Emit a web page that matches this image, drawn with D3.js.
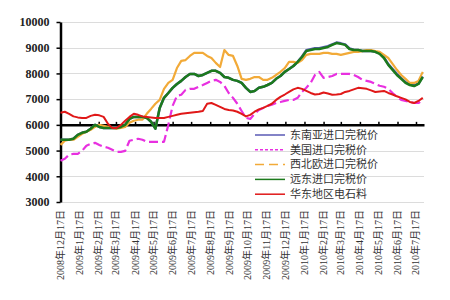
<!DOCTYPE html>
<html>
<head>
<meta charset="utf-8">
<script src="https://cdn.jsdelivr.net/npm/d3@7"></script>
<style>
  body { margin: 0; background: #fff; }
</style>
</head>
<body>
<div id="chart"></div>
<script>
// Weekly prices (yuan/ton)
const startDate = new Date(2008, 11, 17);
const weeks = d3.range(85).map(i => d3.timeDay.offset(startDate, 7 * i));

const tickLabels = [
    "2008年12月17日", "2009年1月17日", "2009年2月17日", "2009年3月17日", "2009年4月17日",
    "2009年5月17日", "2009年6月17日", "2009年7月17日", "2009年8月17日", "2009年9月17日",
    "2009年10月17日", "2009年11月17日", "2009年12月17日", "2010年1月17日", "2010年2月17日",
    "2010年3月17日", "2010年4月17日", "2010年5月17日", "2010年6月17日", "2010年7月17日"
];
const yTicks = [3000, 4000, 5000, 6000, 7000, 8000, 9000, 10000];

const seriesNames = ["东南亚进口完税价", "美国进口完税价", "西北欧进口完税价", "远东进口完税价", "华东地区电石料"];

const seAsia = [
    5420, 5420, 5420, 5460, 5610, 5690, 5730, 5850, 6000, 5920,
    5880, 5880, 5880, 5880, 5920, 6000, 6230, 6310, 6310, 6310,
    6270, 6120, 5850, 6660, 7050, 7240, 7440, 7590, 7710, 7860,
    7980, 7980, 7900, 7940, 8020, 8100, 8100, 8020, 7860, 7830,
    7750, 7710, 7630, 7440, 7280, 7320, 7440, 7480, 7550, 7630,
    7790, 7900, 8060, 8170, 8290, 8450, 8660, 8900, 8940, 8980,
    8980, 9020, 9060, 9130, 9200, 9170, 9130, 8970, 8920, 8910,
    8870, 8870, 8870, 8840, 8780, 8620, 8360, 8170, 7980, 7820,
    7660, 7570, 7530, 7600, 7880
];
const usa = [
    4600, 4680, 4840, 4870, 4870, 4990, 5190, 5260, 5300, 5220,
    5150, 5110, 5030, 4950, 4950, 4990, 5380, 5420, 5460, 5420,
    5340, 5340, 5340, 5340, 5340, 6000, 6740, 7130, 7170, 7360,
    7400, 7400, 7480, 7550, 7630, 7710, 7750, 7670, 7520, 7240,
    7050, 6820, 6540, 6270, 6230, 6430, 6580, 6660, 6740, 6780,
    6850, 6890, 6930, 6970, 6970, 7050, 7280, 7440, 7630, 7940,
    8060, 7830, 7860, 7900, 7980, 7980, 7980, 7980, 7940, 7860,
    7750, 7710, 7670, 7590, 7520, 7480, 7400, 7240, 7090, 6970,
    6930, 6890, 6850, 6850, 6970
];
const nwEurope = [
    5220, 5380, 5420, 5420, 5530, 5650, 5730, 5810, 5920, 6000,
    5960, 5920, 5880, 5850, 5880, 5920, 6080, 6160, 6200, 6200,
    6430, 6620, 6820, 6970, 7400, 7630, 7750, 8210, 8490, 8520,
    8680, 8800, 8800, 8800, 8680, 8600, 8410, 8250, 8910, 8720,
    8680, 8290, 7790, 7750, 7790, 7860, 7860, 7750, 7750, 7830,
    7940, 8060, 8210, 8450, 8450, 8410, 8520, 8720, 8760, 8760,
    8760, 8800, 8800, 8760, 8760, 8720, 8760, 8800, 8840, 8840,
    8870, 8910, 8910, 8870, 8840, 8720, 8600, 8370, 8140, 7940,
    7790, 7630, 7630, 7710, 8060
];
const farEast = [
    5420, 5420, 5420, 5460, 5610, 5690, 5730, 5850, 6000, 5920,
    5880, 5880, 5880, 5880, 5920, 6000, 6230, 6310, 6310, 6310,
    6270, 6120, 5850, 6660, 7050, 7240, 7440, 7590, 7710, 7860,
    7980, 7980, 7900, 7940, 8020, 8100, 8100, 8020, 7860, 7830,
    7750, 7710, 7630, 7440, 7280, 7320, 7440, 7480, 7550, 7630,
    7790, 7900, 8060, 8170, 8290, 8450, 8640, 8870, 8910, 8950,
    8950, 8990, 9030, 9110, 9180, 9150, 9110, 8950, 8910, 8910,
    8870, 8870, 8870, 8840, 8760, 8600, 8330, 8140, 7940, 7790,
    7630, 7550, 7510, 7590, 7860
];
const eastChina = [
    6470, 6510, 6430, 6330, 6290, 6270, 6270, 6350, 6390, 6370,
    6310, 6040, 5880, 5880, 6000, 6160, 6310, 6430, 6390, 6330,
    6310, 6290, 6270, 6270, 6270, 6310, 6350, 6390, 6430, 6450,
    6470, 6490, 6510, 6540, 6820, 6850, 6780, 6700, 6620, 6580,
    6560, 6510, 6430, 6330, 6390, 6510, 6600, 6660, 6740, 6820,
    6970, 7090, 7180, 7280, 7380, 7440, 7400, 7320, 7240, 7180,
    7200, 7260, 7220, 7170, 7180, 7200, 7280, 7320, 7380, 7440,
    7420, 7400, 7340, 7280, 7300, 7320, 7240, 7180, 7110, 7050,
    6990, 6890, 6850, 6930, 7050
];

const seriesData = [seAsia, usa, nwEurope, farEast, eastChina];
const colors = ["#5a5ab4", "#e830e0", "#f2aa38", "#1c7a1c", "#e01818"];
const chartDash = [null, "9,4", null, null, null];
const legendDash = [null, "3,2", "9,5", null, null];
const widths = [2.5, 2.2, 2.2, 2.5, 2];

const width = 450, height = 300;
const margin = {top: 22, right: 26, bottom: 98, left: 60.5};

const svg = d3.select("#chart")
    .append("svg")
    .attr("width", width)
    .attr("height", height);

const parseLabel = d3.timeParse("%Y年%m月%d日");
const tickDates = tickLabels.map(parseLabel);

const x = d3.scaleTime()
    .domain([startDate, new Date(2010, 6, 30)])
    .range([margin.left, width - margin.right]);

const y = d3.scaleLinear()
    .domain([3000, 10000])
    .range([height - margin.bottom, margin.top]);

// gridlines
svg.append("g")
    .selectAll("line")
    .data(yTicks)
    .enter()
    .append("line")
    .attr("x1", margin.left)
    .attr("x2", width - margin.right)
    .attr("y1", d => Math.round(y(d)) + 0.5)
    .attr("y2", d => Math.round(y(d)) + 0.5)
    .attr("stroke", "#dcdcdc")
    .attr("stroke-width", 1);

/* Y axis */
const yAxis = svg.append("g")
    .attr("transform", `translate(${margin.left},0)`)
    .call(d3.axisLeft(y).tickValues(yTicks).tickFormat(d3.format("d"))
        .tickSize(4).tickSizeOuter(0).tickPadding(7));
yAxis.select(".domain").attr("stroke", "#000").attr("stroke-width", 2.5);
yAxis.selectAll(".tick line").attr("stroke", "#000").attr("stroke-width", 1.5);
yAxis.selectAll(".tick text")
    .style("font-family", "'Liberation Serif', serif")
    .style("font-weight", "bold")
    .style("font-size", "12px")
    .attr("fill", "#222");

/* X axis crossing at 6000 */
const xAxis = svg.append("g")
    .attr("transform", `translate(0,${y(6000)})`)
    .call(d3.axisTop(x).tickValues(tickDates).tickSize(3).tickSizeOuter(0).tickFormat(""));
xAxis.select(".domain").attr("stroke", "#000").attr("stroke-width", 2.5);
xAxis.selectAll(".tick line").attr("stroke", "#000").attr("stroke-width", 1.5);

// category labels along the bottom
svg.append("g")
    .selectAll("text")
    .data(tickLabels)
    .enter()
    .append("text")
    .attr("transform", (d, i) => `translate(${x(tickDates[i])},${height - margin.bottom + 8}) rotate(-90)`)
    .attr("dy", "0.35em")
    .attr("text-anchor", "end")
    .attr("fill", "#333")
    .style("font-family", "'Liberation Serif', 'Noto Sans CJK SC', serif")
    .style("font-size", "10px")
    .text(d => d);

// lines
const line = d3.line()
    .x((d, i) => x(weeks[i]))
    .y(d => y(d));

seriesData.forEach((vals, k) => {
    svg.append("path")
        .datum(vals)
        .attr("fill", "none")
        .attr("stroke", colors[k])
        .attr("stroke-width", widths[k])
        .attr("stroke-dasharray", chartDash[k])
        .attr("stroke-linejoin", "round")
        .attr("d", line);
});

// Legend
const legend = svg.append("g")
    .attr("transform", "translate(255,135)");

seriesNames.forEach((name, k) => {
    const row = legend.append("g").attr("transform", `translate(0,${k * 14.8})`);
    row.append("line")
        .attr("x1", 0)
        .attr("x2", 30)
        .attr("stroke", colors[k])
        .attr("stroke-width", 1.5)
        .attr("stroke-dasharray", legendDash[k]);
    row.append("text")
        .attr("x", 35)
        .attr("dy", "0.35em")
        .attr("fill", "#333")
        .style("font-family", "'Noto Sans CJK SC', sans-serif")
        .style("font-size", "11px")
        .text(name);
});
</script>
</body>
</html>
